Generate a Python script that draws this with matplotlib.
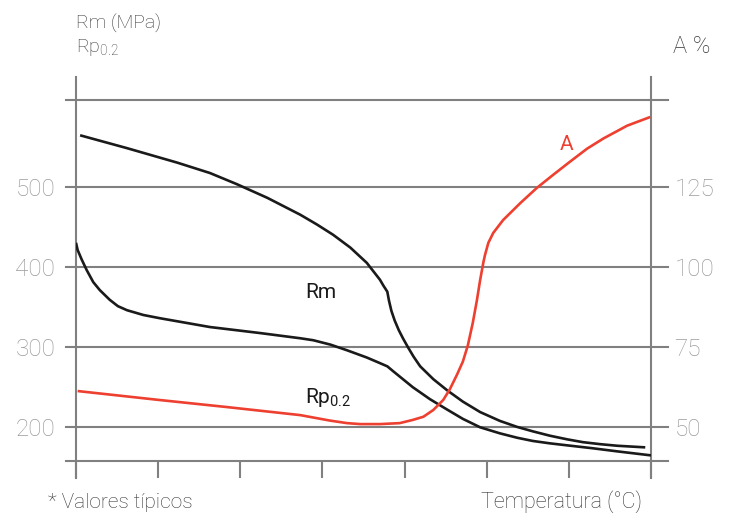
import numpy as np
import matplotlib
matplotlib.use("Agg")
import matplotlib.pyplot as plt

plt.rcParams['font.family'] = ['Roboto', 'DejaVu Sans']
plt.rcParams['mathtext.default'] = 'regular'

# x in tick units (8 unlabeled temperature ticks, 0..7)
rm_x = [0.05, 0.62, 1.23, 1.63, 1.96, 2.33, 2.73, 2.93, 3.13, 3.34, 3.54, 3.70,
        3.74, 3.79, 3.81, 3.84, 3.88, 3.93, 3.98, 4.04, 4.11, 4.19, 4.35, 4.52,
        4.71, 4.92, 5.16, 5.37, 5.56, 5.77, 5.98, 6.17, 6.38, 6.59, 6.93]
rm_y = [564, 548, 530, 517, 503, 486, 465, 453, 440, 424, 405, 384,
        377, 369, 358, 345, 333, 321, 311, 300, 288, 276, 260, 246,
        232, 219, 208, 200.5, 195, 189.5, 185, 181.5, 179, 177, 175]

rp_x = [0.0, 0.02, 0.07, 0.13, 0.21, 0.29, 0.41, 0.51, 0.62, 0.82, 1.02, 1.63,
        2.24, 2.73, 2.89, 3.10, 3.30, 3.54, 3.70, 3.79, 3.86, 3.98, 4.10, 4.31,
        4.52, 4.71, 4.92, 5.16, 5.37, 5.56, 5.77, 5.98, 6.28, 6.59, 7.0]
rp_y = [430, 421, 409, 396, 381, 371, 359, 351, 346, 340, 336, 325,
        317.5, 311, 308.5, 303, 296, 287, 280, 276, 270, 260, 250, 235,
        222, 210.5, 200, 192.5, 187, 183, 180, 177.5, 174, 170, 165]

a_x = [0.02, 1.02, 1.84, 2.73, 3.09, 3.30, 3.46, 3.70, 3.94, 4.10, 4.23, 4.35,
       4.47, 4.55, 4.64, 4.71, 4.77, 4.83, 4.88, 4.92, 4.96, 4.98, 5.02, 5.08,
       5.20, 5.41, 5.61, 5.81, 6.01, 6.22, 6.42, 6.71, 6.99]
a_y = [61.3, 58.5, 56.3, 53.8, 52.1, 51.3, 51.0, 51.0, 51.3, 52.3, 53.3, 55.4,
       58.5, 61.8, 66.5, 70.5, 75.5, 82.5, 89.5, 95.9, 101.5, 103.8, 107.5, 110.6,
       114.6, 119.9, 124.6, 128.7, 132.7, 136.8, 140.0, 144.0, 146.7]

left_ticks = [200, 300, 400, 500]
right_ticks = [50, 75, 100, 125]
x_ticks = list(range(8))

grid_c = '#808080'
lbl_c = '#9a9a9a'
txt_c = '#333333'
red = '#ee4030'

fig = plt.figure(figsize=(7.33, 5.13), dpi=100)
ax = fig.add_axes([76/733, 1 - 461/513, 575/733, 361/513])
ax.set_xlim(0, 7)
ax.set_ylim(158, 608)
ax2 = ax.twinx()
ax2.set_ylim(158/4, 608/4)

for a in (ax, ax2):
    for s in a.spines.values():
        s.set_visible(False)

# horizontal rules (grid + frame), extending past the verticals
for y in [608] + left_ticks + [158]:
    ax.axhline(y, xmin=-10/575, xmax=1 + 17/575, color=grid_c, lw=1.5, clip_on=False, zorder=1)
for x in (0, 7):
    ax.axvline(x, ymin=-17/361, ymax=1 + 23/361, color=grid_c, lw=1.5, clip_on=False, zorder=1)

ax.set_xticks(x_ticks)
ax.set_xticklabels([])
ax.tick_params(axis='x', length=12.5, width=1.5, color=grid_c, direction='out')
ax.set_yticks(left_ticks)
ax.tick_params(axis='y', length=0, pad=15, labelsize=17.5, labelcolor=lbl_c)
ax2.set_yticks(right_ticks)
ax2.tick_params(axis='y', length=0, pad=17, labelsize=17.5, labelcolor=lbl_c)
for t in ax.get_yticklabels() + ax2.get_yticklabels():
    t.set_fontweight('light')

style = dict(lw=1.9, zorder=3, solid_capstyle='butt', solid_joinstyle='round')
ax.plot(rm_x, rm_y, color='#1a1a1a', **style)
ax.plot(rp_x, rp_y, color='#1a1a1a', **style)
ax2.plot(a_x, a_y, color=red, **style)

ax.text(2.79, 361, 'Rm', fontsize=15, color='#1a1a1a')
ax.text(2.79, 230, 'Rp$_{0.2}$', fontsize=15, color='#1a1a1a')
ax.text(5.89, 546, 'A', fontsize=15, color=red)

fig.text(76/733, 1 - 29/513, 'Rm (MPa)', fontsize=14, color=txt_c, fontweight='light')
fig.text(76/733, 1 - 52/513, 'Rp$_{0.2}$', fontsize=14, color=txt_c, fontweight='light')
fig.text(673/733, 1 - 53/513, 'A %', fontsize=17, color=txt_c, fontweight='light')
fig.text(48/733, 1 - 508/513, '* Valores típicos', fontsize=15, color=txt_c, fontweight='light')
fig.text(642/733, 1 - 508/513, 'Temperatura (°C)', fontsize=15.5, color=txt_c,
         fontweight='light', ha='right')

fig.savefig('out.png', dpi=100)
